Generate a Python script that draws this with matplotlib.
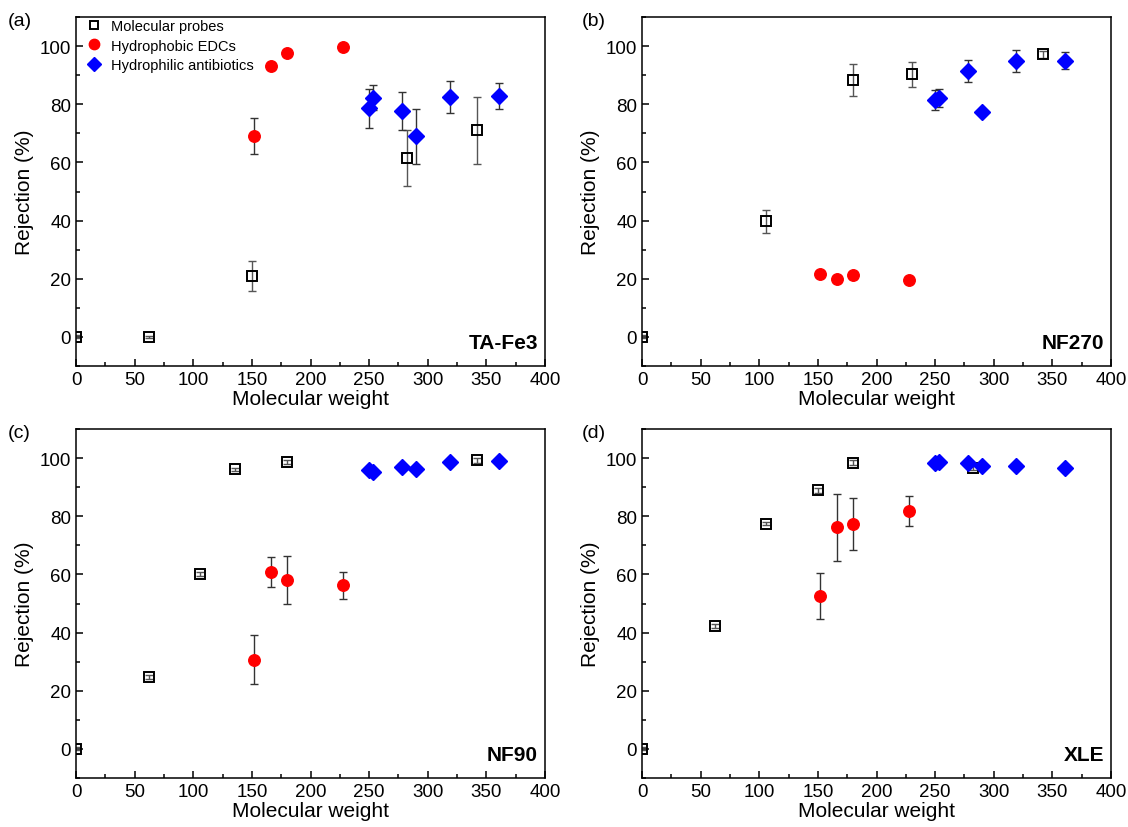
import matplotlib.pyplot as plt
from matplotlib.ticker import MultipleLocator

plt.rcParams['font.family'] = ['Liberation Sans', 'DejaVu Sans']

# molecular probes (x differs per membrane)
probe_mw_a = [0, 62, 150, 282, 342]
probe_rej_a = [0, 0, 21.0, 61.5, 71.0]
probe_err_a = [0.5, 0.3, 5.2, 9.7, 11.5]

probe_mw_b = [0, 106, 180, 230, 342]
probe_rej_b = [0, 39.7, 88.3, 90.3, 97.2]
probe_err_b = [0.5, 4.0, 5.4, 4.3, 1.2]

probe_mw_c = [0, 62, 106, 136, 180, 342]
probe_rej_c = [0, 24.7, 60.1, 96.1, 98.7, 99.2]
probe_err_c = [0.5, 0.8, 0.8, 0.5, 0.8, 0.8]

probe_mw_d = [0, 62, 106, 150, 180, 282]
probe_rej_d = [0, 42.3, 77.5, 88.9, 98.4, 96.6]
probe_err_d = [0.5, 0.8, 0.5, 0.8, 0.8, 0.8]

# hydrophobic EDCs
edc_mw = [152, 166, 180, 228]
edc_rej_a = [69.2, 93.1, 97.5, 99.6]
edc_err_a = [6.2, 0.3, 0.3, 0.8]
edc_rej_b = [21.7, 19.8, 21.2, 19.5]
edc_err_b = [0.5, 0.5, 1.2, 0.5]
edc_rej_c = [30.7, 60.8, 58.0, 56.2]
edc_err_c = [8.5, 5.1, 8.3, 4.5]
edc_rej_d = [52.6, 76.2, 77.3, 81.8]
edc_err_d = [8.0, 11.6, 9.0, 5.0]

# hydrophilic antibiotics
ab_mw = [250, 253, 278, 290, 319, 361]
ab_rej_a = [78.6, 82.3, 77.6, 69.0, 82.5, 82.9]
ab_err_a = [6.7, 4.4, 6.6, 9.5, 5.5, 4.5]
ab_rej_b = [81.5, 82.2, 91.3, 77.3, 94.8, 95.0]
ab_err_b = [3.5, 3.0, 3.8, 0.5, 3.8, 3.0]
ab_rej_c = [96.0, 95.3, 97.0, 96.2, 98.6, 98.9]
ab_err_c = [0.5, 0.5, 0.5, 0.5, 0.5, 0.5]
ab_rej_d = [98.4, 98.5, 98.4, 97.4, 97.4, 96.5]
ab_err_d = [0.5, 0.5, 0.5, 0.5, 0.5, 0.5]

panels = [
    ('(a)', 'TA-Fe3', probe_mw_a, probe_rej_a, probe_err_a, edc_rej_a, edc_err_a, ab_rej_a, ab_err_a),
    ('(b)', 'NF270', probe_mw_b, probe_rej_b, probe_err_b, edc_rej_b, edc_err_b, ab_rej_b, ab_err_b),
    ('(c)', 'NF90', probe_mw_c, probe_rej_c, probe_err_c, edc_rej_c, edc_err_c, ab_rej_c, ab_err_c),
    ('(d)', 'XLE', probe_mw_d, probe_rej_d, probe_err_d, edc_rej_d, edc_err_d, ab_rej_d, ab_err_d),
]

fig = plt.figure(figsize=(11.28, 8.28), dpi=100)
W, H = 1128, 828
boxes = [(76, 18), (642, 18), (76, 430), (642, 430)]
aw, ah = 469, 349
label_pos = [(8, 22), (582, 22), (8, 434), (582, 434)]

for i, (tag, name, pmw, prej, perr, erej, eerr, arej, aerr) in enumerate(panels):
    x0, y0 = boxes[i]
    ax = fig.add_axes([x0 / W, 1 - (y0 + ah) / H, aw / W, ah / H])

    ax.errorbar(pmw, prej, yerr=perr, fmt='none', ecolor='#555555', elinewidth=1, capsize=3, zorder=2)
    ax.errorbar(edc_mw, erej, yerr=eerr, fmt='none', ecolor='#333333', elinewidth=1, capsize=3, zorder=2)
    ax.errorbar(ab_mw, arej, yerr=aerr, fmt='none', ecolor='#333333', elinewidth=1, capsize=3, zorder=2)

    h1, = ax.plot(pmw, prej, 's', ms=7, mfc='none', mec='black', mew=1.4, zorder=3,
                  label='Molecular probes')
    h2, = ax.plot(edc_mw, erej, 'o', ms=8.3, mfc='#ff0000', mec='#ff0000', zorder=3,
                  label='Hydrophobic EDCs')
    h3, = ax.plot(ab_mw, arej, 'D', ms=7.8, mfc='#0000ff', mec='#0000ff', zorder=3,
                  label='Hydrophilic antibiotics')

    ax.set_xlim(0, 400)
    ax.set_ylim(-10, 110)
    ax.xaxis.set_major_locator(MultipleLocator(50))
    ax.xaxis.set_minor_locator(MultipleLocator(25))
    ax.yaxis.set_major_locator(MultipleLocator(20))
    ax.yaxis.set_minor_locator(MultipleLocator(10))
    ax.set_yticks([0, 20, 40, 60, 80, 100])
    ax.tick_params(which='both', direction='in', labelsize=13.5, width=1.1)
    ax.tick_params(which='major', length=5)
    ax.tick_params(which='minor', length=3)
    for s in ax.spines.values():
        s.set_linewidth(1.1)

    ax.set_xlabel('Molecular weight', fontsize=15, labelpad=1)
    ax.set_ylabel('Rejection (%)', fontsize=15, labelpad=4)
    ax.text(0.985, 0.04, name, transform=ax.transAxes, ha='right', va='bottom',
            fontsize=15, fontweight='bold')

    lx, ly = label_pos[i]
    fig.text(lx / W, 1 - ly / H, tag, fontsize=14, ha='left', va='center')

    if i == 0:
        ax.legend(handles=[h1, h2, h3], loc='upper left', bbox_to_anchor=(0, 1.018),
                  frameon=False, fontsize=10.5, handletextpad=0.6, borderaxespad=0.2,
                  labelspacing=0.35, handlelength=1.2, markerscale=0.9)

fig.savefig('out.png', dpi=100)
